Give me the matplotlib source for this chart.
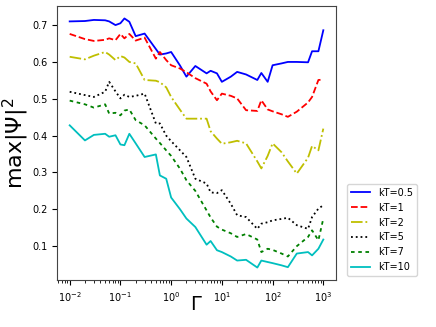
import numpy as np
import matplotlib
matplotlib.use("Agg")
import matplotlib.pyplot as plt

# Gamma values (common grid)
gamma = [0.01, 0.02, 0.03, 0.05, 0.06, 0.08, 0.1, 0.12, 0.15, 0.2, 0.3, 0.5, 0.6, 0.8,
         1, 1.5, 2, 3, 5, 6, 8, 10, 15, 20, 30, 50, 60, 80, 100, 150, 200, 300, 500,
         600, 800, 1000]

kt05 = [0.710, 0.711, 0.714, 0.713, 0.710, 0.700, 0.705, 0.718, 0.709, 0.670, 0.677, 0.635,
        0.620, 0.623, 0.627, 0.590, 0.560, 0.589, 0.569, 0.576, 0.569, 0.546, 0.560, 0.573,
        0.566, 0.551, 0.570, 0.546, 0.591, 0.596, 0.600, 0.600, 0.599, 0.629, 0.629, 0.686]
kt1 = [0.676, 0.662, 0.657, 0.660, 0.664, 0.659, 0.676, 0.664, 0.676, 0.658, 0.666, 0.609,
       0.627, 0.605, 0.591, 0.582, 0.572, 0.556, 0.541, 0.520, 0.496, 0.514, 0.508, 0.501,
       0.469, 0.467, 0.496, 0.471, 0.466, 0.458, 0.451, 0.465, 0.490, 0.505, 0.551, 0.552]
kt2 = [0.614, 0.607, 0.617, 0.627, 0.620, 0.605, 0.616, 0.612, 0.600, 0.596, 0.551, 0.549,
       0.545, 0.531, 0.505, 0.470, 0.446, 0.446, 0.446, 0.412, 0.392, 0.378, 0.382, 0.386,
       0.379, 0.330, 0.311, 0.345, 0.379, 0.355, 0.330, 0.297, 0.340, 0.372, 0.360, 0.419]
kt5 = [0.519, 0.510, 0.505, 0.519, 0.546, 0.520, 0.501, 0.511, 0.505, 0.508, 0.514, 0.433,
       0.433, 0.400, 0.385, 0.360, 0.342, 0.283, 0.270, 0.246, 0.244, 0.252, 0.215, 0.184,
       0.179, 0.147, 0.161, 0.165, 0.170, 0.174, 0.177, 0.157, 0.147, 0.179, 0.202, 0.211]
kt7 = [0.495, 0.485, 0.476, 0.485, 0.460, 0.462, 0.455, 0.468, 0.471, 0.442, 0.428, 0.392,
       0.380, 0.360, 0.345, 0.310, 0.279, 0.250, 0.197, 0.178, 0.153, 0.145, 0.135, 0.125,
       0.133, 0.118, 0.084, 0.093, 0.090, 0.080, 0.072, 0.100, 0.125, 0.143, 0.116, 0.175]
kt10 = [0.428, 0.387, 0.402, 0.405, 0.397, 0.401, 0.376, 0.374, 0.405, 0.379, 0.342, 0.349,
        0.292, 0.283, 0.232, 0.200, 0.175, 0.152, 0.104, 0.114, 0.089, 0.084, 0.072, 0.061,
        0.063, 0.042, 0.061, 0.057, 0.054, 0.048, 0.043, 0.080, 0.084, 0.075, 0.093, 0.118]

labels = ["kT=0.5", "kT=1", "kT=2", "kT=5", "kT=7", "kT=10"]

fig = plt.figure(figsize=(4.36, 3.27), dpi=100)
ax = fig.add_axes([57/436, 47/327, 279/436, 274/327])

lw = 1.3
ax.plot(gamma, kt05, "b-", lw=lw, label=labels[0])
ax.plot(gamma, kt1, "r--", lw=lw, label=labels[1])
ax.plot(gamma, kt2, "y-.", lw=lw, label=labels[2])
ax.plot(gamma, kt5, "k:", lw=lw, label=labels[3])
ax.plot(gamma, kt7, "g", ls=(0, (2, 2)), lw=lw, label=labels[4])
ax.plot(gamma, kt10, "c-", lw=lw, label=labels[5])

ax.set_xscale("log")
ax.set_yticks([0.1, 0.2, 0.3, 0.4, 0.5, 0.6, 0.7])
ax.tick_params(labelsize=7)
ax.set_xlabel(r"$\Gamma$", fontsize=14)
ax.xaxis.set_label_coords(0.5, -0.055)
ax.set_ylabel(r"max|$\Psi$|$^2$", fontsize=16)
ax.yaxis.set_label_coords(-0.092, 0.5)

for s in ax.spines.values():
    s.set_color("#444444")

fig.legend(loc="lower left", bbox_to_anchor=(347/436, 51/327), fontsize=7,
           borderaxespad=0.)

fig.savefig("out.png", dpi=100)
